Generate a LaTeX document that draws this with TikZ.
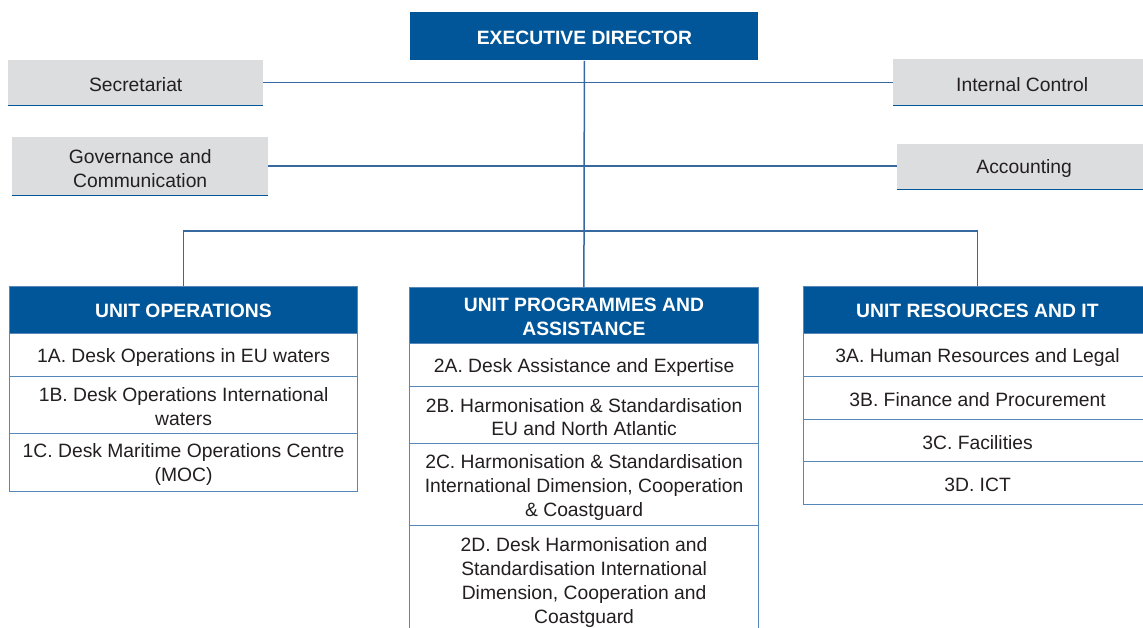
\documentclass[tikz,border=0pt]{standalone}
\usepackage{fontspec}
\setmainfont{Liberation Sans}
\definecolor{hblue}{RGB}{0,86,152}
\definecolor{lblue}{RGB}{55,105,160}
\definecolor{rblue}{RGB}{85,135,185}
\definecolor{gfill}{RGB}{220,221,223}
\definecolor{tdark}{RGB}{35,31,32}
\tikzset{
  base/.style={rectangle, inner sep=0pt, anchor=north west},
  tx/.style={inner sep=0pt, align=center, yshift=-2pt, text=tdark,
    font=\fontsize{19.3}{24}\selectfont},
  hx/.style={tx, text=white, yshift=1pt, font=\fontsize{19.3}{24}\selectfont\bfseries},
  graybox/.style={base, fill=gfill},
  unithead/.style={base, fill=hblue, draw=rblue, line width=0.8pt},
  unitrow/.style={base, fill=white, draw=rblue, line width=1.2pt},
  conn/.style={draw=lblue, line width=1.5pt},
  bline/.style={draw=hblue, line width=1.6pt}
}
\begin{document}
\begin{tikzpicture}[x=1pt,y=-1pt]
\useasboundingbox (0,0) rectangle (1143,628);
\clip (0,0) rectangle (1143,628);
\fill[white] (0,0) rectangle (1143,628);

% top
\node[unithead, draw=none, minimum width=348pt, minimum height=48pt,
  label={[hx]center:EXECUTIVE DIRECTOR}] (ed) at (410,12) {};

\node[graybox, minimum width=255pt, minimum height=45pt,
  label={[tx]center:Secretariat}] (sec) at (8,60) {};
\node[graybox, minimum width=256pt, minimum height=58pt,
  label={[tx]center:Governance and\\Communication}] (gov) at (12,137) {};
\node[graybox, minimum width=258pt, minimum height=46pt,
  label={[tx]center:Internal Control}] (ic) at (893,59) {};
\node[graybox, minimum width=254pt, minimum height=45pt,
  label={[tx]center:Accounting}] (acc) at (897,144) {};
\foreach \n in {sec,gov,ic,acc} {\draw[bline] (\n.south west) -- (\n.south east);}

% units
\node[unithead, minimum width=348pt, minimum height=47pt,
  label={[hx]center:UNIT OPERATIONS}] (ops) at (9,286) {};
\node[unitrow, minimum width=348pt, minimum height=43pt,
  label={[tx]center:1A. Desk Operations in EU waters}] (o1) at (9,333) {};
\node[unitrow, minimum width=348pt, minimum height=57pt,
  label={[tx]center:1B. Desk Operations International\\waters}] (o2) at (9,376) {};
\node[unitrow, minimum width=348pt, minimum height=58pt,
  label={[tx]center:1C. Desk Maritime Operations Centre\\(MOC)}] (o3) at (9,433) {};

\node[unithead, minimum width=349pt, minimum height=56pt,
  label={[hx]center:UNIT PROGRAMMES AND\\ASSISTANCE}] (prog) at (409,287) {};
\node[unitrow, minimum width=349pt, minimum height=43pt,
  label={[tx]center:2A. Desk Assistance and Expertise}] (p1) at (409,343) {};
\node[unitrow, minimum width=349pt, minimum height=57pt,
  label={[tx]center:2B. Harmonisation \& Standardisation\\EU and North Atlantic}] (p2) at (409,386) {};
\node[unitrow, minimum width=349pt, minimum height=82pt,
  label={[tx, yshift=-1pt]center:2C. Harmonisation \& Standardisation\\International Dimension, Cooperation\\\& Coastguard}] (p3) at (409,443) {};
\node[unitrow, minimum width=349pt, minimum height=110pt,
  label={[tx]center:2D. Desk Harmonisation and\\Standardisation International\\Dimension, Cooperation and\\Coastguard}] (p4) at (409,525) {};

\node[unithead, minimum width=348pt, minimum height=47pt,
  label={[hx]center:UNIT RESOURCES AND IT}] (res) at (803,286) {};
\node[unitrow, minimum width=348pt, minimum height=43pt,
  label={[tx]center:3A. Human Resources and Legal}] (r1) at (803,333) {};
\node[unitrow, minimum width=348pt, minimum height=43pt,
  label={[tx]center:3B. Finance and Procurement}] (r2) at (803,376) {};
\node[unitrow, minimum width=348pt, minimum height=42pt,
  label={[tx]center:3C. Facilities}] (r3) at (803,419) {};
\node[unitrow, minimum width=348pt, minimum height=43pt,
  label={[tx]center:3D. ICT}] (r4) at (803,461) {};

% connectors
\coordinate (bus) at (583,231);
\draw[conn] (sec.east) -- (sec.east -| ic.west);
\draw[conn] (gov.east) -- (gov.east -| acc.west);
\draw[conn] (ed.south) -- (prog.north);
\draw[conn] (ops.north) |- (bus) -| (res.north);
\end{tikzpicture}
\end{document}
